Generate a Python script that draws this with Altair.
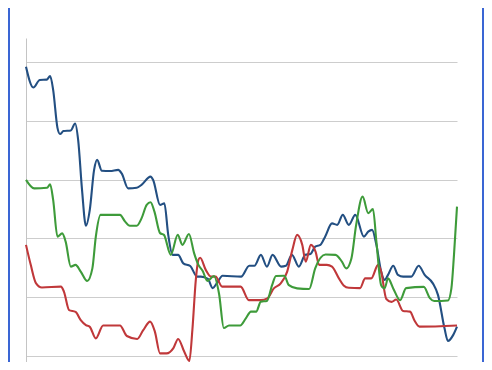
import altair as alt
import pandas as pd

# x positions (0-100 across the plot) and values (gridlines at 0,20,...,100)
blue_x = [0, 1.7, 3.2, 4.8, 5.6, 6.3, 7.3, 7.9, 8.7, 10.4, 11.4, 12.1, 13.0, 13.9, 14.8, 15.8, 16.5, 17.6,
          19.5, 21.4, 22.2, 23.7, 25.7, 26.8, 28.9, 29.5, 31.1, 32.1, 33.0, 34.0, 35.3, 36.5, 38.1, 39.7,
          40.6, 42.2, 43.3, 44.3, 45.6, 49.9, 51.8, 53.0, 54.5, 55.9, 57.2, 59.2, 60.3, 61.7, 63.3, 64.8,
          66.0, 67.1, 68.3, 69.4, 71.0, 72.2, 73.5, 74.9, 76.4, 78.4, 79.4, 80.3, 81.3, 82.4, 83.2, 84.0,
          85.2, 86.3, 87.5, 89.4, 91.1, 92.5, 94.4, 95.6, 97.1, 97.9, 99.1, 100]
blue_y = [98.4, 91.3, 93.9, 94.0, 95.2, 90.5, 77.6, 75.5, 76.5, 76.7, 79.1, 73.5, 56.5, 44.3, 49.7, 63.3, 66.7, 63.0,
          62.9, 63.3, 62.1, 57.0, 57.2, 58.2, 61.0, 59.9, 51.4, 51.9, 41.2, 34.4, 34.4, 31.5, 30.6, 27.0,
          27.0, 26.2, 23.1, 24.8, 27.3, 27.0, 30.7, 30.7, 34.4, 30.4, 34.4, 30.4, 30.7, 34.4, 30.4, 34.4,
          34.7, 37.2, 37.8, 40.6, 45.1, 44.6, 48.0, 44.6, 48.0, 40.6, 42.3, 42.9, 37.8, 28.7, 25.9, 27.6,
          30.7, 27.6, 27.0, 27.0, 30.7, 27.6, 24.7, 20.7, 9.4, 5.1, 7.1, 10.0]

green_x = [0, 1.9, 4.9, 5.6, 6.3, 7.3, 8.4, 9.2, 10.4, 11.5, 12.7, 14.2, 15.4, 16.2, 17.3, 20.4, 21.8, 23.0,
           24.1, 25.7, 26.8, 28.0, 28.9, 29.8, 31.1, 32.0, 33.6, 35.2, 36.3, 37.8, 39.0, 40.0, 41.0, 42.1,
           43.6, 44.8, 45.9, 47.1, 49.7, 51.0, 52.2, 53.4, 54.5, 55.9, 57.1, 58.0, 59.9, 61.0, 62.9, 65.7,
           67.1, 69.5, 71.8, 73.3, 74.3, 75.5, 76.6, 78.1, 79.4, 80.5, 81.3, 82.4, 83.2, 84.0, 85.2, 86.8,
           88.2, 92.3, 93.7, 94.7, 97.9, 98.7, 99.3, 100]
green_y = [59.9, 57.0, 57.2, 58.4, 53.1, 40.6, 41.7, 38.9, 30.4, 31.0, 28.7, 25.5, 29.8, 40.6, 48.0, 48.0, 48.0, 45.7,
           44.3, 44.3, 46.8, 51.4, 52.3, 49.1, 41.8, 41.2, 34.4, 41.2, 37.8, 41.5, 35.0, 31.0, 28.9, 25.5,
           27.2, 21.1, 9.5, 10.4, 10.4, 12.8, 15.1, 15.1, 18.5, 18.7, 24.1, 27.2, 27.3, 24.1, 23.0, 22.8,
           29.8, 34.5, 34.4, 32.1, 29.8, 33.2, 44.6, 54.2, 48.6, 50.0, 38.9, 24.1, 23.0, 26.4, 23.0, 19.0,
           23.1, 23.5, 19.7, 18.7, 18.9, 23.0, 34.4, 50.8]

red_x = [0, 1.1, 2.3, 3.7, 8.1, 8.8, 10.0, 11.5, 12.7, 13.9, 14.8, 16.2, 17.9, 21.8, 23.4, 25.8, 27.2, 28.8,
         29.9, 31.1, 32.6, 34.2, 35.3, 36.7, 37.9, 38.6, 39.4, 40.0, 40.4, 41.7, 42.9, 44.0, 45.5, 49.8,
         51.7, 54.5, 56.0, 57.5, 59.1, 60.6, 61.8, 62.9, 64.1, 64.9, 66.1, 67.2, 68.0, 69.8, 71.0, 72.6,
         73.7, 74.9, 77.5, 78.7, 80.1, 81.7, 82.4, 83.6, 84.8, 85.9, 87.5, 89.1, 90.2, 91.3, 100]
red_y = [37.8, 31.0, 24.8, 23.3, 23.6, 21.9, 15.6, 15.0, 12.2, 10.5, 9.9, 6.0, 10.4, 10.4, 6.8, 5.8, 8.8, 11.7,
         8.3, 0.9, 0.9, 2.7, 5.8, 1.5, -1.7, 8.8, 25.9, 32.7, 33.4, 29.3, 27.0, 27.0, 23.6, 23.6,
         19.0, 19.0, 19.6, 23.0, 24.7, 28.7, 36.1, 41.2, 37.8, 32.1, 37.8, 35.4, 31.0, 31.0, 30.4, 26.4,
         24.0, 23.2, 23.1, 26.4, 26.4, 31.0, 28.7, 19.4, 18.4, 19.2, 15.3, 15.1, 11.9, 10.0, 10.4]

grid_values = [0, 20, 40, 60, 80, 100]

Y_DOMAIN = [-2.04, 108.16]

x_enc = alt.X("x:Q", scale=alt.Scale(domain=[0, 100], nice=False, zero=False), axis=None)
y_enc = alt.Y("y:Q", scale=alt.Scale(domain=Y_DOMAIN, nice=False, zero=False),
              axis=alt.Axis(values=grid_values, labels=False, ticks=False, title=None,
                            grid=True, gridColor="#cdcdcd", gridWidth=1.2,
                            domain=True, domainColor="#c4c4c4", domainWidth=1))


def series(xs, ys, color):
    df = pd.DataFrame({"x": xs, "y": ys})
    return alt.Chart(df).mark_line(interpolate="monotone", strokeWidth=2.1, color=color).encode(
        x=x_enc, y=y_enc
    )


border_df = pd.DataFrame({"side": ["left", "right"]})
borders = alt.layer(
    alt.Chart(border_df).mark_rule(color="#3a66d4", strokeWidth=2).encode(
        x=alt.value(-17), y=alt.value(-30), y2=alt.value(330)
    ),
    alt.Chart(border_df).mark_rule(color="#3a66d4", strokeWidth=2).encode(
        x=alt.value(457), y=alt.value(-30), y2=alt.value(330)
    ),
)

chart = alt.layer(
    series(blue_x, blue_y, "#234f82"),
    series(red_x, red_y, "#c0383a"),
    series(green_x, green_y, "#3e9b3a"),
    borders,
).properties(
    width=431, height=324,
    background="white",
    autosize=alt.AutoSizeParams(type="none"),
    padding={"left": 18, "top": 30, "right": 27, "bottom": 0},
).configure_view(stroke=None)

chart.save("out.html", embed_options={"renderer": "svg", "actions": False})
